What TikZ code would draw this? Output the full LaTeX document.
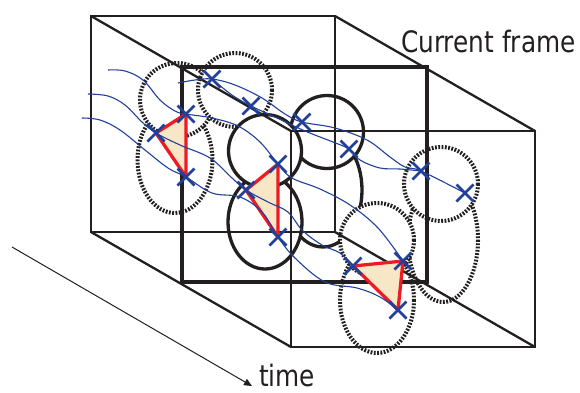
\documentclass[tikz,border=0pt]{standalone}
\usepackage{fontspec}
\setmainfont{DejaVu Sans}
\usetikzlibrary{arrows.meta}
\definecolor{ink}{RGB}{35,31,32}
\definecolor{trk}{RGB}{33,64,154}
\definecolor{tri}{RGB}{237,28,36}
\definecolor{tfill}{RGB}{247,231,198}
\begin{document}
\begin{tikzpicture}[x=1pt,y=-1pt,
  frame/.style={draw=ink, line width=2.3pt},
  curframe/.style={draw=ink, line width=4.2pt},
  solidblob/.style={draw=ink, fill=white, line width=3.3pt},
  dotblob/.style={draw=ink, fill=white, line width=4pt, dash pattern=on 1.8pt off 1.5pt},
  track/.style={draw=trk, line width=1.1pt},
  xmark/.style={draw=trk, line width=2.8pt},
  tristyle/.style={draw=tri, fill=tfill, line width=3.3pt, line join=round},
  lbl/.style={font=\fontsize{29.5}{30}\selectfont, text=ink, anchor=base west, inner sep=0pt}
]
\useasboundingbox (0,0) rectangle (580,392);
% frame corners
\coordinate (b1) at (91,16);  \coordinate (b2) at (335,16);
\coordinate (b3) at (335,232); \coordinate (b4) at (91,232);
\coordinate (f1) at (291,131); \coordinate (f2) at (535,131);
\coordinate (f3) at (535,347); \coordinate (f4) at (291,347);
\coordinate (c1) at (182,67);  \coordinate (c3) at (427,282);
% crosses
\coordinate (x1) at (156,133); \coordinate (x2) at (186,114); \coordinate (x3) at (186,177);
\coordinate (x4) at (212,79);  \coordinate (x5) at (251,106); \coordinate (x6) at (302,122);
\coordinate (x7) at (349,149); \coordinate (x8) at (278,164); \coordinate (x9) at (246,190);
\coordinate (x10) at (278,237); \coordinate (x11) at (421,171); \coordinate (x12) at (465,193);
\coordinate (x13) at (353,266); \coordinate (x14) at (403,261); \coordinate (x15) at (398,310);

% left dotted cluster
\path[dotblob] (175,160) ellipse [x radius=37.5, y radius=53];
\path[dotblob] (177,100) ellipse [x radius=37, y radius=37];
\path[dotblob] (235,90) ellipse [x radius=37, y radius=37];
% solid cluster
\path[solidblob] (323,190) ellipse [x radius=39, y radius=57];
\path[solidblob] (327,132) ellipse [x radius=36.5, y radius=36.5];
\path[solidblob] (265,222) ellipse [x radius=37, y radius=47];
\path[solidblob] (265,151) ellipse [x radius=36.5, y radius=36.5];
% right dotted clusters
\path[dotblob] (443,240) ellipse [x radius=35, y radius=62];
\path[dotblob] (377,300) ellipse [x radius=37, y radius=53];
\path[dotblob] (441,184) ellipse [x radius=37, y radius=37];
\path[dotblob] (377,240) ellipse [x radius=37, y radius=37];

% frames
\draw[frame] (b1) rectangle (b3);
\draw[frame] (f1) rectangle (f3);
\draw[frame] (b1) -- (f1);
\draw[frame] (b2) -- (f2);
\draw[frame] (b3) -- (f3);
\draw[frame] (b4) -- (f4);
\draw[curframe] (c1) rectangle (c3);

% triangles
\draw[tristyle] (x1) -- (x2) -- (x3) -- cycle;
\draw[tristyle] (x9) -- (x8) -- (x10) -- cycle;
\draw[tristyle] (x13) -- (x14) -- (x15) -- cycle;

% tracks
\draw[track] plot[smooth, tension=0.6] coordinates {(108,70) (125,71) (143,80) (160,100) (175,111) (x2) (212,118) (238,126) (260,142) (x8) (292,178) (320,189) (350,205) (378,228) (x14)};
\draw[track] plot[smooth, tension=0.6] coordinates {(88,94) (108,96) (125,105) (142,122) (x1) (180,145) (210,158) (232,178) (x9) (268,202) (288,212) (302,230) (322,245) (340,253) (x13)};
\draw[track] plot[smooth, tension=0.6] coordinates {(82,118) (100,120) (120,130) (145,150) (168,168) (x3) (212,193) (240,197) (262,212) (x10) (295,258) (325,282) (357,288) (380,297) (x15)};
\draw[track] plot[smooth, tension=0.6] coordinates {(178,83) (195,80) (x4) (235,85) (262,98) (285,114) (x6) (335,128) (367,140) (390,157) (405,167) (x11) (x12)};
\draw[track] plot[smooth, tension=0.6] coordinates {(x4) (232,95) (x5) (275,117) (305,131) (333,142) (x7) (360,160) (380,168) (400,169) (x11)};

% crosses
\foreach \p in {x1,x2,x3,x4,x5,x6,x7,x8,x9,x10,x11,x12,x13,x14,x15}
  \draw[xmark] (\p) ++(-8.5,-8.5) -- ++(17,17) (\p) ++(-8.5,8.5) -- ++(17,-17);

% labels
\node[lbl] (cf) at (401,52) {\scalebox{0.84}[1]{Current frame}};
\node[lbl] (time) at (259,386) {\scalebox{0.84}[1]{time}};
\coordinate (ts) at (12,247);
\coordinate (te) at (252,386);
\draw[ink, line width=1pt, -{Triangle[length=8pt,width=7pt]}] (ts) -- (te);
\end{tikzpicture}
\end{document}
